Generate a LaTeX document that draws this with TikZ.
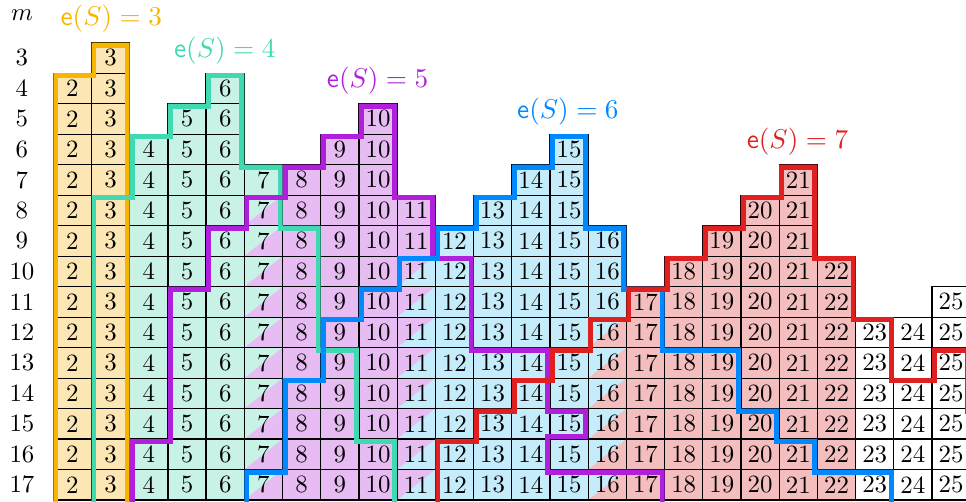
\documentclass[tikz,border=0pt]{standalone}
\usetikzlibrary{calc}

\definecolor{yline}{RGB}{247,181,0}
\definecolor{tline}{RGB}{64,217,178}
\definecolor{pline}{RGB}{176,32,220}
\definecolor{bline}{RGB}{0,136,255}
\definecolor{rline}{RGB}{224,32,32}
\definecolor{yfill}{RGB}{252,230,180}
\definecolor{tfill}{RGB}{200,242,230}
\definecolor{pfill}{RGB}{230,188,242}
\definecolor{bfill}{RGB}{197,236,250}
\definecolor{rfill}{RGB}{245,190,190}

\tikzset{
  cell/.style={
    draw=black,
    line width=0.5pt,
    minimum width=0.54cm,
    minimum height=0.431cm,
    inner sep=0pt
  },
  bdy/.style={
    line width=4pt,
    line join=miter
  },
  lab/.style={
    font=\fontsize{11}{13}\selectfont
  }
}

\begin{document}
\begin{tikzpicture}[x=0.54cm, y=0.431cm]
    \useasboundingbox (-1.395,-15.06) rectangle (23.89,1.40);

    % 塗り
    \foreach \k/\st/\fc in {2/4/yfill, 3/3/yfill, 4/6/tfill, 5/5/tfill, 6/4/tfill,
        7/7/tfill, 8/7/pfill, 9/6/pfill, 10/5/pfill, 11/8/pfill, 12/9/bfill,
        13/8/bfill, 14/7/bfill, 15/6/bfill, 16/9/bfill, 17/11/rfill, 18/10/rfill,
        19/9/rfill, 20/8/rfill, 21/7/rfill, 22/10/rfill}
      \foreach \m in {\st,...,17}
        \fill[\fc] (\k-2,2-\m) rectangle (\k-1,3-\m);

    % 斜めのマス
    \foreach \k/\st/\fc in {7/8/pfill, 11/10/bfill, 16/12/rfill}
      \foreach \m in {\st,...,17}
        \fill[\fc] (\k-2,2-\m) -- (\k-1,2-\m) -- (\k-1,3-\m) -- cycle;

    % マス
    \foreach \k/\st in {2/4, 3/3, 4/6, 5/5, 6/4, 7/7, 8/7, 9/6, 10/5, 11/8,
        12/9, 13/8, 14/7, 15/6, 16/9, 17/11, 18/10, 19/9, 20/8, 21/7, 22/10,
        23/12, 24/12, 25/11}
      \foreach \m in {\st,...,17}
        \node[cell] (c\k-\m) at (\k-1.5,2.5-\m) {\k};

    % 行ラベル
    \node (m) at (-0.82,0.91) {$m$};
    \foreach \m in {3,...,17}
      \node (r\m) at (-0.82,2.5-\m) {\m};

    % 境界
    \def\ypath{(0,-16) -- (0,-1) -- (1,-1) -- (1,0) -- (2,0) -- (2,-16) -- cycle}
    \def\tpath{(1,-16) -- (1,-5) -- (2,-5) -- (2,-3) -- (3,-3) -- (3,-2) -- (4,-2)
      -- (4,-1) -- (5,-1) -- (5,-4) -- (6,-4) -- (6,-6) -- (7,-6) -- (7,-10)
      -- (8,-10) -- (8,-13) -- (9,-13) -- (9,-16) -- cycle}
    \def\ppath{(2,-16) -- (2,-13) -- (3,-13) -- (3,-8) -- (4,-8) -- (4,-6) -- (5,-6)
      -- (5,-5) -- (6,-5) -- (6,-4) -- (7,-4) -- (7,-3) -- (8,-3) -- (8,-2)
      -- (9,-2) -- (9,-5) -- (10,-5) -- (10,-7) -- (11,-7) -- (11,-10) -- (13,-10)
      -- (13,-12) -- (14,-12) -- (14,-13) -- (13,-13) -- (13,-14) -- (16,-14)
      -- (16,-16) -- cycle}
    \def\bpath{(5,-16) -- (5,-14) -- (6,-14) -- (6,-11) -- (7,-11) -- (7,-9) -- (8,-9)
      -- (8,-8) -- (9,-8) -- (9,-7) -- (10,-7) -- (10,-6) -- (11,-6) -- (11,-5)
      -- (12,-5) -- (12,-4) -- (13,-4) -- (13,-3) -- (14,-3) -- (14,-6) -- (15,-6)
      -- (15,-8) -- (16,-8) -- (16,-10) -- (18,-10) -- (18,-12) -- (19,-12)
      -- (19,-13) -- (20,-13) -- (20,-14) -- (22,-14) -- (22,-16) -- cycle}
    \def\rpath{(10,-16) -- (10,-13) -- (11,-13) -- (11,-12) -- (12,-12) -- (12,-11)
      -- (13,-11) -- (13,-10) -- (14,-10) -- (14,-9) -- (15,-9) -- (15,-8)
      -- (16,-8) -- (16,-7) -- (17,-7) -- (17,-6) -- (18,-6) -- (18,-5) -- (19,-5)
      -- (19,-4) -- (20,-4) -- (20,-7) -- (21,-7) -- (21,-9) -- (22,-9) -- (22,-11)
      -- (23,-11) -- (23,-10) -- (24,-10) -- (24,-12) -- (25,-12) -- (25,-16) -- cycle}

    \begin{scope}
      \clip \ypath;
      \draw[bdy, yline] \ypath;
    \end{scope}
    \begin{scope}
      \clip \tpath;
      \draw[bdy, tline] \tpath;
    \end{scope}
    \begin{scope}
      \clip \ppath;
      \draw[bdy, pline] \ppath;
    \end{scope}
    \begin{scope}
      \clip \bpath;
      \draw[bdy, bline] \bpath;
    \end{scope}
    \begin{scope}
      \clip \rpath;
      \draw[bdy, rline] \rpath;
    \end{scope}

    % ラベル
    \node[lab, text=yline] (e3) at (1.52,0.78) {$\mathsf{e}(S)=3$};
    \node[lab, text=tline] (e4) at (4.49,-0.26) {$\mathsf{e}(S)=4$};
    \node[lab, text=pline] (e5) at (8.49,-1.23) {$\mathsf{e}(S)=5$};
    \node[lab, text=bline] (e6) at (13.47,-2.25) {$\mathsf{e}(S)=6$};
    \node[lab, text=rline] (e7) at (19.48,-3.25) {$\mathsf{e}(S)=7$};
\end{tikzpicture}
\end{document}
